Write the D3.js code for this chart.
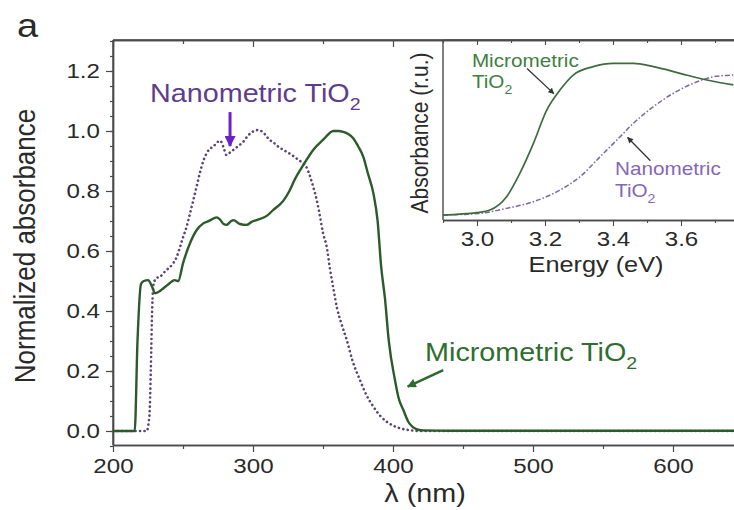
<!DOCTYPE html>
<html><head><meta charset="utf-8">
<script src="https://cdn.jsdelivr.net/npm/d3@7"></script>
<style>
html,body{margin:0;padding:0;background:#fff;}
svg{display:block;font-family:"Liberation Sans",Arial,sans-serif;}
</style></head>
<body><svg id="chart" width="734" height="510"></svg>
<script>
// ---------- data ----------
const lambdaMicro = [200,215.5,217.5,220,222,225,228,230,233,236,239,242,244,246.6,250,255,259.8,264.5,269,274,276.4,279,281,284,286,290.7,295.5,299,302.6,309.8,314.5,321.6,326,330,336,343,350,357.4,361,364.5,368,371.6,375,378.8,382,386,389,391.5,394.3,397,401.4,404,407.4,411,414.5,418,421.6,440,660];
const absMicro    = [0,0,0.3,0.49,0.5,0.503,0.48,0.459,0.465,0.476,0.487,0.498,0.503,0.5,0.559,0.626,0.67,0.692,0.701,0.712,0.705,0.69,0.687,0.698,0.703,0.69,0.687,0.697,0.703,0.717,0.737,0.767,0.8,0.84,0.887,0.937,0.97,1.0,1.0,0.997,0.99,0.976,0.95,0.914,0.86,0.792,0.7,0.55,0.44,0.3,0.17,0.11,0.07,0.03,0.012,0.004,0.002,0.001,0.001];

const lambdaNano = [200,224,226,227,228,229,231,233.6,236,238.4,243,245.5,247.9,250,252.6,255,257.4,260,262,264.5,266.9,269,271.6,274,276.4,279,281,283.5,286,289.5,293,296.5,300,303,307.4,310,312,314.5,318,321.6,325,331,335,338,341,343,345.5,347.9,350,352.6,355,357.4,360,363,367,371,376.4,381,386,391,395.5,400,405,410,415,420,660];
const absNano    = [0,0,0.05,0.2,0.41,0.49,0.51,0.514,0.526,0.537,0.559,0.58,0.614,0.645,0.681,0.725,0.77,0.82,0.859,0.9,0.926,0.94,0.948,0.96,0.968,0.945,0.92,0.928,0.937,0.95,0.964,0.985,0.998,1.003,0.995,0.98,0.97,0.962,0.948,0.937,0.928,0.909,0.895,0.881,0.845,0.814,0.77,0.714,0.66,0.615,0.54,0.475,0.41,0.36,0.303,0.235,0.17,0.12,0.081,0.05,0.031,0.018,0.009,0.004,0.001,0,0];

const energyMicro = [2.9,3.0,3.038,3.087,3.126,3.166,3.205,3.244,3.283,3.342,3.401,3.46,3.519,3.597,3.676,3.754];
const insetMicro  = [0,0.015,0.032,0.118,0.269,0.462,0.677,0.806,0.903,0.957,0.978,0.978,0.957,0.914,0.871,0.839];
const energyNano  = [2.9,3.009,3.087,3.166,3.244,3.303,3.362,3.421,3.46,3.519,3.577,3.636,3.695,3.754];
const insetNano   = [0,0.011,0.043,0.086,0.161,0.247,0.376,0.505,0.592,0.699,0.785,0.849,0.892,0.903];

const xTicks = [200,300,400,500,600];
const xMinor = [250,350,450,550,650];
const yTicks = [0,0.2,0.4,0.6,0.8,1.0,1.2];
const yMinor = d3.range(-0.05,1.31,0.05).map(v=>+v.toFixed(2));
const insetXTicks = [3.0,3.2,3.4,3.6];
const insetXMinor = [2.9,3.1,3.3,3.5,3.7];

// ---------- layout ----------
const SX = 1.15; // horizontal glyph stretch seen in reference
const svg = d3.select("#chart");
const M = {left:113, top:40, bottom:445, right:757};
const x = d3.scaleLinear().domain([200,660]).range([M.left, M.right]);
const y = d3.scaleLinear().domain([-0.0467,1.3033]).range([M.bottom, M.top]);

const green = "#2b5a2b", purpleLine = "#5b4476", axisCol = "#4a4a4a", txt = "#2a2a2a";

svg.append("rect").attr("width",734).attr("height",510).attr("fill","#fff");

function stretchText(sel){
  sel.each(function(){
    const t = d3.select(this);
    const tx = +t.attr("x")||0, ty = +t.attr("y")||0;
    t.attr("x",0).attr("y",0).attr("transform",`translate(${tx},${ty}) scale(${SX},1)`);
  });
}
function label(g, px, py, str, opts={}){
  const t = g.append("text").attr("transform",`translate(${px},${py}) scale(${SX},1)${opts.rotate?" rotate(-90)":""}`)
    .attr("font-size",opts.size||20).attr("fill",opts.fill||txt)
    .attr("text-anchor",opts.anchor||"start");
  t.append("tspan").text(str);
  if(opts.sub){
    t.append("tspan").attr("font-size",(opts.size||20)*0.68).attr("dy",(opts.size||20)*0.33).text(opts.sub);
  }
  return t;
}

const defs = svg.append("defs");
defs.append("clipPath").attr("id","mainclip").append("rect")
  .attr("x",M.left).attr("y",M.top).attr("width",M.right-M.left).attr("height",M.bottom-M.top);
function marker(id,color,w,h){
  defs.append("marker").attr("id",id).attr("viewBox","0 0 10 10").attr("refX",9).attr("refY",5)
    .attr("markerWidth",w).attr("markerHeight",h).attr("markerUnits","userSpaceOnUse").attr("orient","auto")
    .append("path").attr("d","M0,0 L10,5 L0,10 z").attr("fill",color);
}
marker("mPurple","#6a22c8",13,11);
marker("mGreen","#2d6a2d",12,9);
marker("mBlack","#333",8,6);

// ---------- main axes ----------
const gMain = svg.append("g");
// frame lines
gMain.append("line").attr("x1",M.left).attr("x2",M.right).attr("y1",M.top).attr("y2",M.top).attr("stroke",axisCol).attr("stroke-width",1.4);

const axB = gMain.append("g").attr("transform",`translate(0,${M.bottom})`)
  .call(d3.axisBottom(x).tickValues(xTicks).tickSize(7).tickPadding(6).tickSizeOuter(0).tickFormat(d3.format("d")));
gMain.append("g").attr("transform",`translate(0,${M.bottom})`)
  .call(d3.axisBottom(x).tickValues(xMinor).tickSize(4).tickSizeOuter(0).tickFormat(""));
gMain.append("g").attr("transform",`translate(0,${M.top})`)
  .call(d3.axisBottom(x).tickValues(xTicks).tickSize(7).tickSizeOuter(0).tickFormat(""));
gMain.append("g").attr("transform",`translate(0,${M.top})`)
  .call(d3.axisBottom(x).tickValues(xMinor).tickSize(4).tickSizeOuter(0).tickFormat(""));
const axL = gMain.append("g").attr("transform",`translate(${M.left},0)`)
  .call(d3.axisLeft(y).tickValues(yTicks).tickSize(7).tickPadding(6).tickSizeOuter(0).tickFormat(d3.format(".1f")));
gMain.append("g").attr("transform",`translate(${M.left},0)`)
  .call(d3.axisLeft(y).tickValues(yMinor).tickSize(3).tickSizeOuter(0).tickFormat(""));

gMain.selectAll(".domain").attr("stroke",axisCol).attr("stroke-width",1.4);
gMain.selectAll(".tick line").attr("stroke",axisCol).attr("stroke-width",1.2);
gMain.selectAll(".tick text").attr("font-size",21).attr("fill",txt).attr("font-family","Liberation Sans, Arial, sans-serif");
stretchText(axB.selectAll(".tick text"));
stretchText(axL.selectAll(".tick text"));
// extend left axis line to top frame
gMain.append("line").attr("x1",M.left).attr("x2",M.left).attr("y1",M.top).attr("y2",M.bottom).attr("stroke",axisCol).attr("stroke-width",1.4);

// ---------- main curves ----------
const line = d3.line().curve(d3.curveMonotoneX);
const gCurves = svg.append("g").attr("clip-path","url(#mainclip)");
gCurves.append("path").attr("d",line(lambdaNano.map((l,i)=>[x(l),y(absNano[i])])))
  .attr("fill","none").attr("stroke",purpleLine).attr("stroke-width",2.6)
  .attr("stroke-dasharray","0.1,4.4").attr("stroke-linecap","round");
gCurves.append("path").attr("d",line(lambdaMicro.map((l,i)=>[x(l),y(absMicro[i])])))
  .attr("fill","none").attr("stroke",green).attr("stroke-width",2.4).attr("stroke-linejoin","round");

// ---------- main annotations ----------
label(svg, x(226.4), y(1.098), "Nanometric TiO", {size:25, fill:"#5e3d8e", sub:"2"});
svg.append("line").attr("x1",x(283.6)).attr("y1",y(1.063)).attr("x2",x(283.6)).attr("y2",y(0.95))
  .attr("stroke","#6a22c8").attr("stroke-width",3).attr("marker-end","url(#mPurple)");
label(svg, x(422.9), y(0.233), "Micrometric TiO", {size:25, fill:"#2f6e2f", sub:"2"});
svg.append("line").attr("x1",x(435.9)).attr("y1",y(0.203)).attr("x2",x(410.5)).attr("y2",y(0.148))
  .attr("stroke","#2d6a2d").attr("stroke-width",2.6).attr("marker-end","url(#mGreen)");

label(svg, M.left-78, M.bottom+60, "", {});
label(svg, 425, 502, "λ (nm)", {size:25, anchor:"middle"});
label(svg, 35, 246, "Normalized absorbance", {size:26, anchor:"middle", rotate:true});
label(svg, 17, 37, "a", {size:33});

// ---------- inset ----------
const I = {left:443, top:40, bottom:220, right:783};
const xi = d3.scaleLinear().domain([2.9,3.9]).range([I.left,I.right]);
const yi = d3.scaleLinear().domain([-0.032,1.129]).range([I.bottom,I.top]);
const gI = svg.append("g");
gI.append("rect").attr("x",I.left).attr("y",I.top).attr("width",I.right-I.left).attr("height",I.bottom-I.top).attr("fill","#fff");
defs.append("clipPath").attr("id","insetclip").append("rect")
  .attr("x",I.left).attr("y",I.top).attr("width",I.right-I.left).attr("height",I.bottom-I.top);

const axIB = gI.append("g").attr("transform",`translate(0,${I.bottom})`)
  .call(d3.axisBottom(xi).tickValues(insetXTicks).tickSize(6).tickPadding(5).tickSizeOuter(0).tickFormat(d3.format(".1f")));
gI.append("g").attr("transform",`translate(0,${I.bottom})`)
  .call(d3.axisBottom(xi).tickValues(insetXMinor).tickSize(3).tickSizeOuter(0).tickFormat(""));
gI.append("g").attr("transform",`translate(0,${I.top})`)
  .call(d3.axisBottom(xi).tickValues(insetXTicks).tickSize(5).tickSizeOuter(0).tickFormat(""));
gI.append("g").attr("transform",`translate(0,${I.top})`)
  .call(d3.axisBottom(xi).tickValues(insetXMinor).tickSize(3).tickSizeOuter(0).tickFormat(""));
gI.selectAll(".domain").attr("stroke",axisCol).attr("stroke-width",1.4);
gI.selectAll(".tick line").attr("stroke",axisCol).attr("stroke-width",1.1);
gI.selectAll(".tick text").attr("font-size",21).attr("fill",txt).attr("font-family","Liberation Sans, Arial, sans-serif");
stretchText(axIB.selectAll(".tick text"));
gI.append("line").attr("x1",I.left).attr("x2",I.left).attr("y1",I.top).attr("y2",I.bottom).attr("stroke",axisCol).attr("stroke-width",1.4);

const gIC = gI.append("g").attr("clip-path","url(#insetclip)");
gIC.append("path").attr("d",line(energyNano.map((e,i)=>[xi(e),yi(insetNano[i])])))
  .attr("fill","none").attr("stroke","#7a68a8").attr("stroke-width",1.5).attr("stroke-dasharray","5,2,1.5,2");
gIC.append("path").attr("d",line(energyMicro.map((e,i)=>[xi(e),yi(insetMicro[i])])))
  .attr("fill","none").attr("stroke","#3d6b3d").attr("stroke-width",1.7);

label(gI, xi(2.985), yi(0.955), "Micrometric", {size:18, fill:"#3f7f3f"});
label(gI, xi(2.985), yi(0.82), "TiO", {size:18, fill:"#3f7f3f", sub:"2"});
gI.append("line").attr("x1",xi(3.147)).attr("y1",yi(0.945)).attr("x2",xi(3.226)).attr("y2",yi(0.783))
  .attr("stroke","#333").attr("stroke-width",1.3).attr("marker-end","url(#mBlack)");
label(gI, xi(3.406), yi(0.258), "Nanometric", {size:18, fill:"#8466b8"});
label(gI, xi(3.406), yi(0.116), "TiO", {size:18, fill:"#8466b8", sub:"2"});
gI.append("line").attr("x1",xi(3.51)).attr("y1",yi(0.35)).attr("x2",xi(3.443)).attr("y2",yi(0.5))
  .attr("stroke","#333").attr("stroke-width",1.3).attr("marker-end","url(#mBlack)");

label(gI, 596, 272, "Energy (eV)", {size:22, anchor:"middle"});
label(gI, 428, 133, "Absorbance (r.u.)", {size:21, anchor:"middle", rotate:true});
</script>
</body></html>
